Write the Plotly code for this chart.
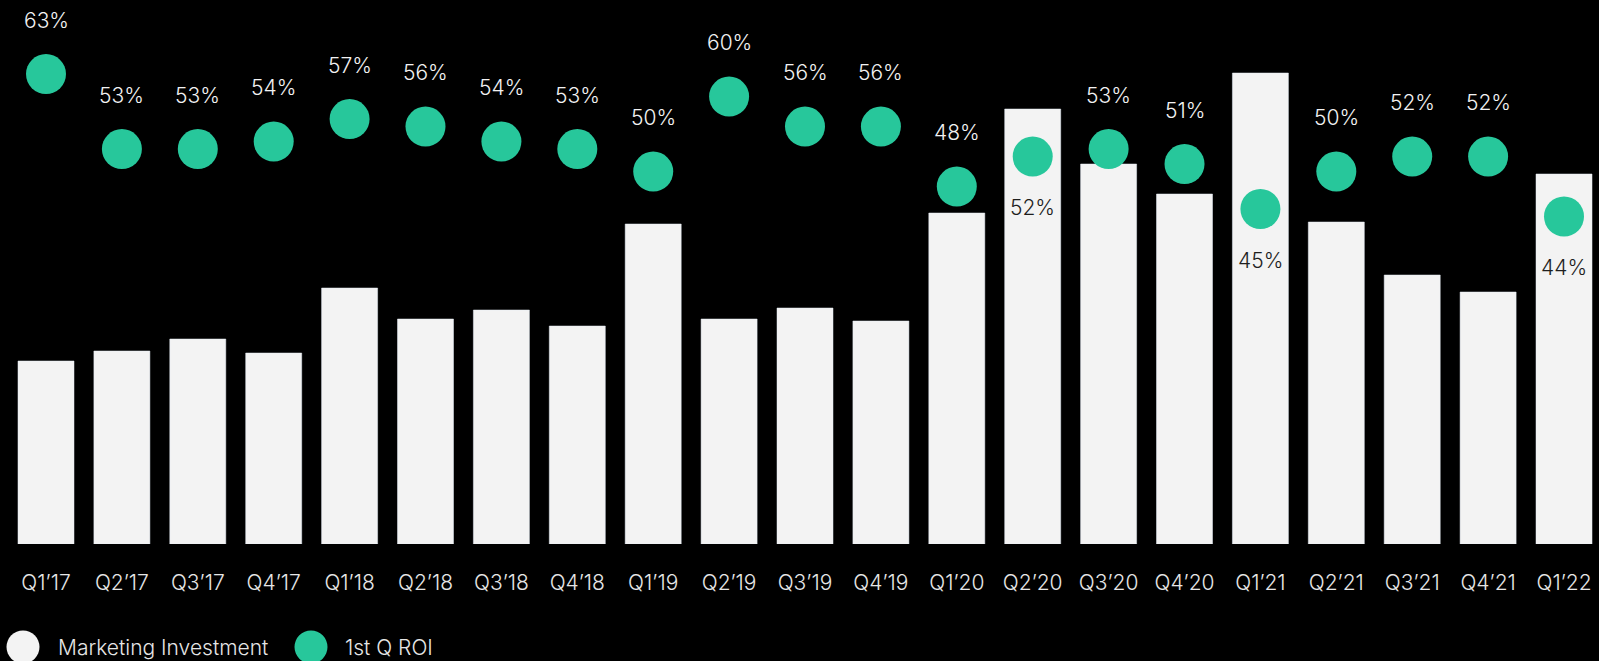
import plotly.graph_objects as go

quarters = ["Q1\u201917", "Q2\u201917", "Q3\u201917", "Q4\u201917",
            "Q1\u201918", "Q2\u201918", "Q3\u201918", "Q4\u201918",
            "Q1\u201919", "Q2\u201919", "Q3\u201919", "Q4\u201919",
            "Q1\u201920", "Q2\u201920", "Q3\u201920", "Q4\u201920",
            "Q1\u201921", "Q2\u201921", "Q3\u201921", "Q4\u201921",
            "Q1\u201922"]

# Marketing investment (relative units)
marketing_investment = [183, 193, 205, 191, 256, 225, 234, 218, 320, 225, 236,
                        223, 331, 435, 380, 350, 471, 322, 269, 252, 370]

# First-quarter ROI, percent
roi = [63, 53, 53, 54, 57, 56, 54, 53, 50, 60, 56, 56,
       48, 52, 53, 51, 45, 50, 52, 52, 44]

# Quarters whose ROI label sits beneath the dot (on the bar)
label_below = ["Q2\u201920", "Q1\u201921", "Q1\u201922"]

BAR = "#f3f3f3"
GREEN = "#27c79b"
FONT = "Inter"
WEIGHT = 300
SIZE = 21

fig = go.Figure()
fig.add_trace(go.Bar(
    x=quarters, y=marketing_investment, marker_color=BAR,
    name="Marketing Investment", showlegend=False,
))
fig.add_trace(go.Scatter(
    x=quarters, y=roi, yaxis="y2", mode="markers",
    marker=dict(size=40, color=GREEN, line=dict(width=0)),
    name="1st Q ROI", showlegend=False,
))

annotations = []
for q, v in zip(quarters, roi):
    below = q in label_below
    annotations.append(dict(
        x=q, y=v, xref="x", yref="y2", text=f"{v}%", showarrow=False,
        yshift=-51 if below else 54, yanchor="middle",
        font=dict(family=FONT, size=SIZE, weight=WEIGHT,
                  color="#1e1e1e" if below else "#f2f2f2"),
    ))

# Legend drawn as circles with text beside them
legend_items = [("Marketing Investment", BAR, 23, 56), ("1st Q ROI", GREEN, 311, 343)]
W, H, B = 1599, 661, 117
PH = H - B
shapes = []
cy = -(647 - PH) / PH
for label, color, cx, tx in legend_items:
    r = 16.5
    shapes.append(dict(
        type="circle", xref="paper", yref="paper",
        x0=(cx - r) / W, x1=(cx + r) / W, y0=cy - r / PH, y1=cy + r / PH,
        fillcolor=color, line=dict(width=0),
    ))
    annotations.append(dict(
        x=tx / W, y=cy, xref="paper", yref="paper", text=label,
        showarrow=False, xanchor="left", yanchor="middle",
        font=dict(family=FONT, size=SIZE, weight=WEIGHT, color="#e6e6e6"),
    ))

fig.update_layout(
    width=W, height=H,
    margin=dict(l=0, r=0, t=0, b=B, pad=0),
    paper_bgcolor="black", plot_bgcolor="black",
    bargap=0.262,
    showlegend=False,
    xaxis=dict(
        range=[-0.606, 20.461], showgrid=False, zeroline=False, showline=False,
        ticks="", ticklabelstandoff=24,
        tickfont=dict(family=FONT, size=SIZE, weight=WEIGHT, color="#e6e6e6"),
    ),
    yaxis=dict(range=[0, 544], visible=False),
    yaxis2=dict(range=[0.333, 72.87], overlaying="y", visible=False),
    annotations=annotations,
    shapes=shapes,
)

fig.write_html("out.html")
